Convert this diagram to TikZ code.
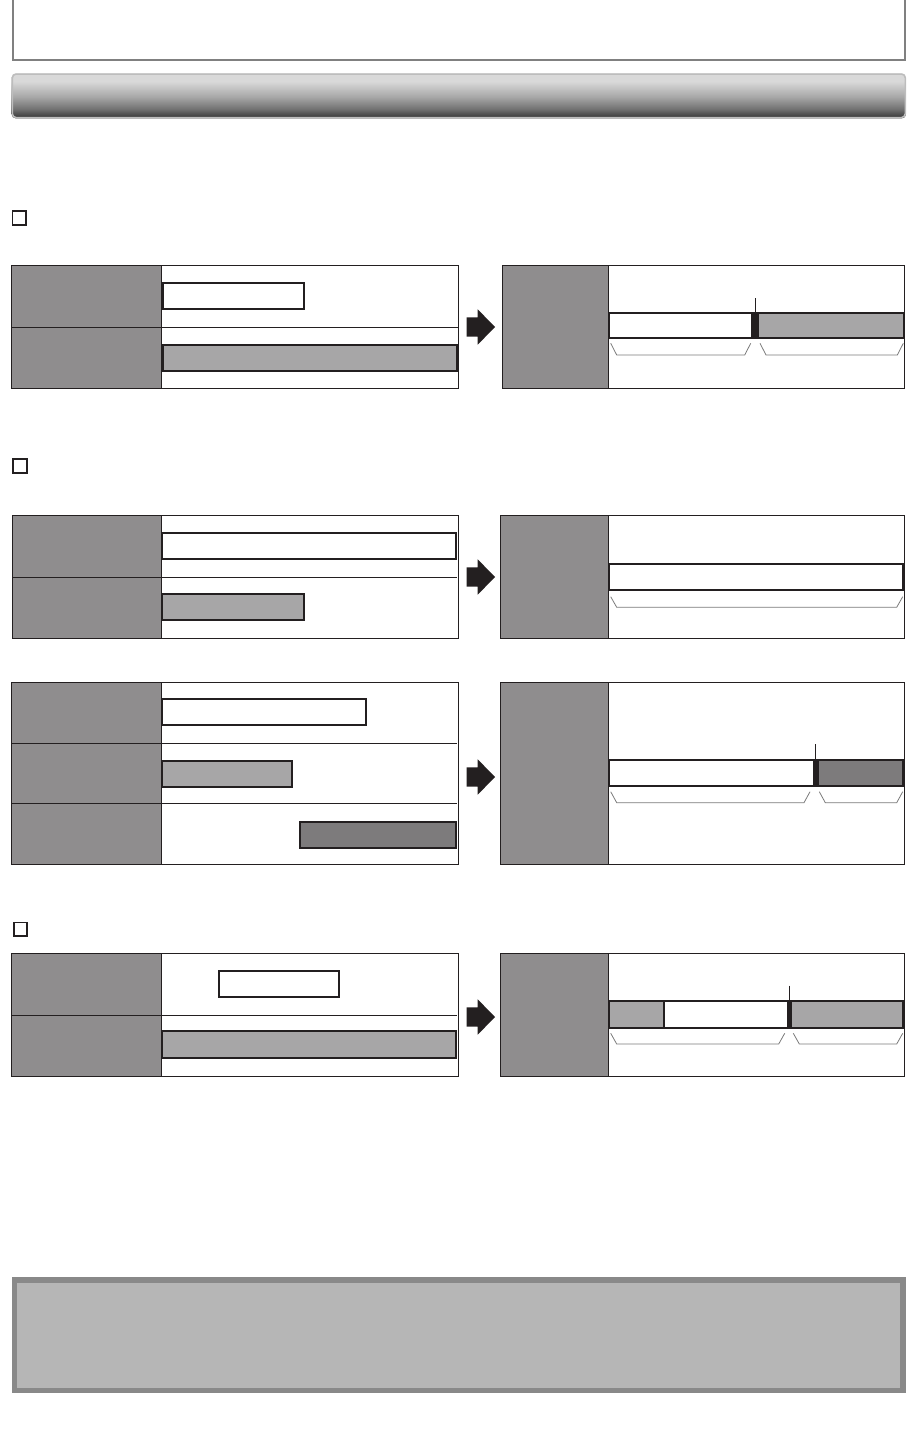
\documentclass[tikz,border=0pt]{standalone}
\definecolor{ink}{HTML}{231F20}
\definecolor{colgray}{HTML}{8F8D8E}
\definecolor{lightfill}{HTML}{A7A6A7}
\definecolor{darkfill}{HTML}{7D7B7C}
\definecolor{bracketc}{HTML}{7A7A7A}
\definecolor{frameg}{HTML}{808080}
\definecolor{notefill}{HTML}{B6B6B6}
\definecolor{noteborder}{HTML}{898989}
\definecolor{shlight}{HTML}{D9D9D9}
\definecolor{shmid}{HTML}{A8A8A8}
\definecolor{shlow}{HTML}{707070}
\definecolor{shdark}{HTML}{383838}
\definecolor{barborder}{HTML}{BDBDBD}
\pgfdeclareverticalshading{barshade}{100bp}{color(0bp)=(shdark); color(26bp)=(shdark); color(35bp)=(shlow); color(49bp)=(shmid); color(66bp)=(shlight); color(100bp)=(shlight)}
\tikzset{
  thinframe/.style={draw=ink, line width=1pt},
  barbox/.style={draw=ink, line width=2pt},
  brkline/.style={draw=bracketc, line width=0.8pt},
  tickline/.style={draw=ink, line width=0.8pt},
  checkbox/.style={draw=ink, line width=1.6pt},
}
\newcommand\mybracket[4]{\draw[brkline] (#1,#3) -- ({#1+6},#4) -- ({#2-6},#4) -- (#2,#3);}
\newcommand\myarrow[1]{\fill[ink] (466.7,{#1-9.7}) -- (477.7,{#1-9.7}) -- (477.7,{#1-17.7}) -- (495,#1) -- (477.7,{#1+17.7}) -- (477.7,{#1+9.7}) -- (466.7,{#1+9.7}) -- cycle;}
\begin{document}
\begin{tikzpicture}[x=1pt,y=-1pt]
\useasboundingbox (0,0) rectangle (907,1445);
\clip (0,0) rectangle (907,1445);
% top frame
\draw[frameg, line width=2pt] (12.5,-5) rectangle (905,59.7);
% gradient title bar
\shade[shading=barshade, rounded corners=4pt] (11.6,73.3) rectangle (906,118.3);
\draw[barborder, line width=1.5pt, rounded corners=4pt] (12.3,74) rectangle (905.3,117.6);
% check boxes
\draw[checkbox] (12.5,211) rectangle (25.9,224.9);
\draw[checkbox] (13.1,459.1) rectangle (26.9,472.9);
\draw[checkbox] (13.8,922.5) rectangle (27.2,935.9);

% ===== Diagram 1 =====
\fill[colgray] (11.7,265.3) rectangle (161.3,388.3);
\draw[barbox, fill=white] (163,282.7) rectangle (304.3,309);
\draw[barbox, fill=lightfill] (163,345) rectangle (457,371);
\draw[thinframe] (11.7,265.3) rectangle (458.7,388.3);
\draw[thinframe] (161.3,265.3) -- (161.3,388.3);
\draw[thinframe] (11.7,327.3) -- (458.7,327.3);
\myarrow{327}
\fill[colgray] (502.3,265.3) rectangle (608.3,388.3);
\fill[lightfill] (758.7,312.7) rectangle (903.7,338.3);
\fill[ink] (751.3,311.7) rectangle (758.7,339.3);
\draw[barbox] (609.3,312.7) rectangle (903.7,338.3);
\draw[tickline] (755.3,298.3) -- (755.3,311.7);
\mybracket{610.7}{750.7}{343.3}{355}
\mybracket{760}{903.3}{343.3}{355}
\draw[thinframe] (502.3,265.3) rectangle (904.7,388.3);
\draw[thinframe] (608.3,265.3) -- (608.3,388.3);

% ===== Diagram 2 =====
\fill[colgray] (12.3,515.3) rectangle (161.3,638.7);
\draw[barbox, fill=white] (161.7,533) rectangle (456.3,558.7);
\draw[barbox, fill=lightfill] (161.7,594) rectangle (304.3,620);
\draw[thinframe] (12.3,515.3) rectangle (458.7,638.7);
\draw[thinframe] (161.3,515.3) -- (161.3,638.7);
\draw[thinframe] (12.3,577) -- (456.7,577);
\myarrow{577}
\fill[colgray] (500.7,515.3) rectangle (608.3,638);
\draw[barbox, fill=white] (609.3,563.7) rectangle (903.3,589.7);
\mybracket{610.7}{902.7}{596.7}{607.3}
\draw[thinframe] (500.7,515.3) rectangle (904.3,638);
\draw[thinframe] (608.3,515.3) -- (608.3,638);

% ===== Diagram 3 =====
\fill[colgray] (11.7,682.3) rectangle (161.3,864.3);
\draw[barbox, fill=white] (161.7,698.7) rectangle (365.7,725);
\draw[barbox, fill=lightfill] (161.7,760.7) rectangle (292.3,786.7);
\draw[barbox, fill=darkfill] (299.7,821.7) rectangle (456.3,848);
\draw[thinframe] (11.7,682.3) rectangle (458.7,864.3);
\draw[thinframe] (161.3,682.3) -- (161.3,864.3);
\draw[thinframe] (11.7,743) -- (456.7,743);
\draw[thinframe] (11.7,803.3) -- (456.7,803.3);
\myarrow{777}
\fill[colgray] (500.7,682.3) rectangle (608.3,864.3);
\fill[darkfill] (818.7,759.7) rectangle (903.3,785.7);
\fill[ink] (812.7,758.7) rectangle (818.7,786.7);
\draw[barbox] (609.3,759.7) rectangle (903.3,785.7);
\draw[tickline] (815.3,744) -- (815.3,758.7);
\mybracket{610.7}{810}{791.7}{802.7}
\mybracket{819.3}{902.7}{791.7}{802.7}
\draw[thinframe] (500.7,682.3) rectangle (904.3,864.3);
\draw[thinframe] (608.3,682.3) -- (608.3,864.3);

% ===== Diagram 4 =====
\fill[colgray] (11.7,953.3) rectangle (161.3,1076);
\draw[barbox, fill=white] (218.7,970.7) rectangle (339.3,997.3);
\draw[barbox, fill=lightfill] (161.7,1031.3) rectangle (456.3,1057.7);
\draw[thinframe] (11.7,953.3) rectangle (458.7,1076);
\draw[thinframe] (161.3,953.3) -- (161.3,1076);
\draw[thinframe] (11.7,1015.3) -- (456.7,1015.3);
\myarrow{1017}
\fill[colgray] (500.7,953.3) rectangle (608.3,1076);
\fill[lightfill] (609.3,1001.3) rectangle (664,1027.7);
\fill[lightfill] (792,1001.3) rectangle (903.3,1027.7);
\fill[ink] (786.7,1000.3) rectangle (792,1028.7);
\draw[barbox] (664,1001.3) -- (664,1027.7);
\draw[barbox] (609.3,1001.3) rectangle (903.3,1027.7);
\draw[tickline] (789.3,985.7) -- (789.3,1000.3);
\mybracket{610.7}{784.7}{1033.3}{1044}
\mybracket{793.3}{902.7}{1033.3}{1044}
\draw[thinframe] (500.7,953.3) rectangle (904.3,1076);
\draw[thinframe] (608.3,953.3) -- (608.3,1076);

% ===== note box =====
\draw[draw=noteborder, line width=5.5pt, fill=notefill] (14.4,1280) rectangle (903.2,1390.6);
\end{tikzpicture}
\end{document}
